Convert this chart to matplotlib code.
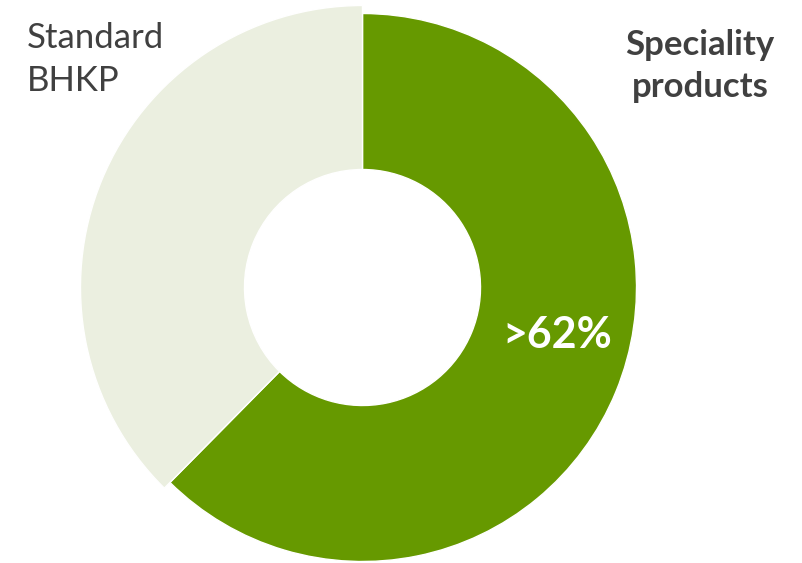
import matplotlib.pyplot as plt

# data
labels = ["Speciality products", "Standard BHKP"]
shares = [62.4, 37.6]
colors = ["#669900", "#EBEFE0"]
pct_label = ">62%"

W, H = 802, 563

fig = plt.figure(figsize=(W / 100, H / 100), dpi=100)
ax = fig.add_axes([0, 0, 1, 1])

cx, cy = 362.5, H - 287.5
r = 278
hole = 118

wedges, _ = ax.pie(
    shares,
    colors=colors,
    startangle=90,
    counterclock=False,
    center=(cx, cy),
    radius=r,
    explode=[0.01, 0.01],
    wedgeprops=dict(width=r - hole, edgecolor="white", linewidth=1),
    frame=True,
)
ax.set_xlim(0, W)
ax.set_ylim(0, H)
ax.set_aspect("equal")
ax.axis("off")

# the two rings are not quite the same size in the original
wedges[0].set_radius(274)
wedges[0].set_width(274 - hole)
wedges[1].set_radius(282)
wedges[1].set_width(282 - hole)

font = ["Lato", "DejaVu Sans"]
ax.text(27, H - 22, "Standard\nBHKP", ha="left", va="top", fontsize=25,
        color="#404040", family=font, linespacing=1.42)
ax.text(700, H - 29, "Speciality\nproducts", ha="center", va="top", fontsize=25,
        fontweight="bold", color="#404040", family=font, linespacing=1.4)
ax.text(557, H - 335, pct_label, ha="center", va="center", fontsize=31,
        fontweight="bold", color="white", family=font)

fig.savefig("out.png", dpi=100)
